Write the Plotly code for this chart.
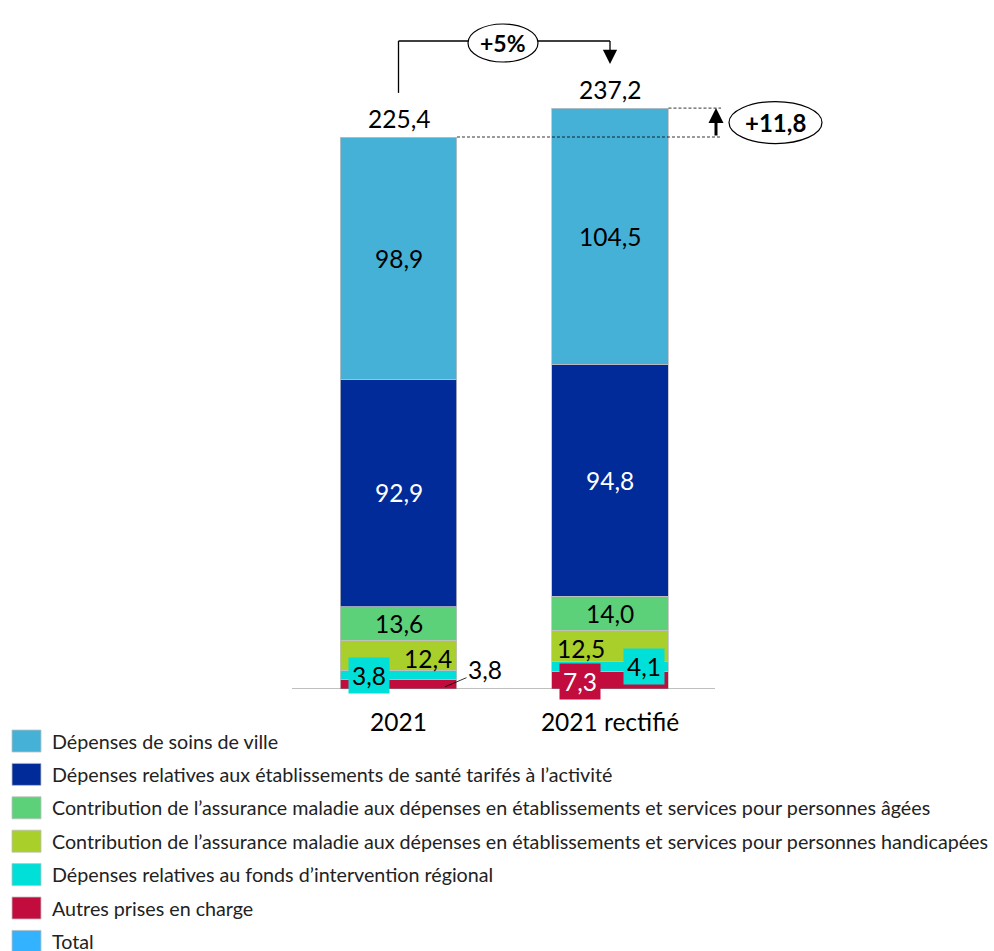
import plotly.graph_objects as go

# Categories and stacked series (Md€)
categories = ["2021", "2021 rectifié"]
series_names = [
    "Autres prises en charge",
    "Dépenses relatives au fonds d’intervention régional",
    "Contribution de l’assurance maladie aux dépenses en établissements et services pour personnes handicapées",
    "Contribution de l’assurance maladie aux dépenses en établissements et services pour personnes âgées",
    "Dépenses relatives aux établissements de santé tarifés à l’activité",
    "Dépenses de soins de ville",
]
autres = [3.8, 7.3]
fir = [3.8, 4.1]
ph = [12.4, 12.5]
pa = [13.6, 14.0]
ets = [92.9, 94.8]
ville = [98.9, 104.5]
totals = [225.4, 237.2]
growth_label = "+5%"
delta_label = "+11,8"

series_values = [autres, fir, ph, pa, ets, ville]
series_colors = ["#C10C3D", "#00E0D8", "#A8CF2A", "#5CD17A", "#002B99", "#45B1D6"]
total_color = "#33B3FF"

FONT = "Lato"
NUM_SIZE = 24.5
W, H = 994, 951
PX_PER_UNIT = 2.449          # vertical scale (px per Md€)
BASE_PX = 689                # pixel row of the zero line
X_PX_PER_CAT = 211.5
X0_PX = 398.5                # pixel column of the first category
BAR_W = 0.553

x_range = [-X0_PX / X_PX_PER_CAT, (W - X0_PX) / X_PX_PER_CAT]
y_range = [0, BASE_PX / PX_PER_UNIT]


def fmt(v):
    return f"{v:.1f}".replace(".", ",")


def py(pixel_row):
    """Data y for a pixel row of the figure."""
    return (BASE_PX - pixel_row) / PX_PER_UNIT


def px(pixel_col):
    """Data x for a pixel column of the figure."""
    return (pixel_col - X0_PX) / X_PX_PER_CAT


fig = go.Figure()
for name, vals, col in zip(series_names, series_values, series_colors):
    fig.add_trace(go.Bar(
        x=categories, y=vals, name=name, width=BAR_W,
        marker=dict(color=col, line=dict(color="#BFBFBF", width=0.8)),
        showlegend=False, hoverinfo="skip",
    ))

annotations = []

# Totals above the stacks
for ci, t in enumerate(totals):
    annotations.append(dict(
        x=ci, y=t, text=fmt(t), showarrow=False, yanchor="middle", yshift=19,
        font=dict(family=FONT, size=NUM_SIZE, color="black"),
    ))

# Segment labels: (series index, category index, x shift, y shift, box color, font color)
label_specs = [
    (5, 0, 0, 0, None, "black"),
    (4, 0, 0, 0, None, "white"),
    (3, 0, 0, 0, None, "black"),
    (2, 0, 29.5, -3, None, "black"),
    (1, 0, -29.5, 0, "#00E0D8", "black"),
    (5, 1, 0, 0, None, "black"),
    (4, 1, 0, 0, None, "white"),
    (3, 1, 0, 0, None, "black"),
    (2, 1, -29.5, -3, None, "black"),
    (1, 1, 33.5, 0, "#00E0D8", "black"),
    (0, 1, -30.5, -1.5, "#C10C3D", "white"),
]
for si, ci, dx, dy, bg, fc in label_specs:
    below = sum(series_values[k][ci] for k in range(si))
    v = series_values[si][ci]
    ann = dict(
        x=ci, y=below + v / 2, text=fmt(v), showarrow=False,
        xshift=dx, yshift=dy, font=dict(family=FONT, size=NUM_SIZE, color=fc),
    )
    if bg:
        ann.update(bgcolor=bg, borderpad=3)
    annotations.append(ann)

# "Autres" label of the first bar, placed outside with a leader line
annotations.append(dict(
    x=px(445), y=autres[0] / 2 - 1.0, text=fmt(autres[0]), showarrow=True,
    arrowhead=0, arrowwidth=0.8, arrowcolor="black", ax=40, ay=-17,
    font=dict(family=FONT, size=NUM_SIZE, color="black"),
))

# Growth bracket between the two totals
top_y = py(41)
x_a, x_b = 0, 1
shapes = [
    dict(type="line", xref="x", yref="y", x0=x_a, x1=x_a, y0=totals[0] + 18.0, y1=top_y,
         line=dict(color="black", width=1.3)),
    dict(type="line", xref="x", yref="y", x0=x_a, x1=x_b, y0=top_y, y1=top_y,
         line=dict(color="black", width=1.3)),
    dict(type="line", xref="x", yref="y", x0=x_b, x1=x_b, y0=top_y, y1=py(56),
         line=dict(color="black", width=1.3)),
]
annotations.append(dict(
    x=x_b, y=py(64), ax=x_b, ay=py(54),
    xref="x", yref="y", axref="x", ayref="y", text="", showarrow=True,
    arrowhead=2, arrowsize=2.2, arrowwidth=1.3, arrowcolor="black",
))
ex = px(503)
shapes.append(dict(
    type="circle", xref="x", yref="y",
    x0=ex - 35 / X_PX_PER_CAT, x1=ex + 35 / X_PX_PER_CAT,
    y0=py(62), y1=py(24),
    fillcolor="white", line=dict(color="black", width=1.2),
))
annotations.append(dict(
    x=ex, y=py(43), text=f"<b>{growth_label}</b>", showarrow=False,
    font=dict(family=FONT, size=23, color="black"),
))

# Difference marker: dashed guides at both totals and an upward arrow
x_guide_end = px(721)
x_arrow = px(716)
dash = dict(color="black", width=0.8, dash="3px,2px")
shapes += [
    dict(type="line", xref="x", yref="y", x0=x_a + BAR_W / 2, x1=x_guide_end,
         y0=totals[0], y1=totals[0], line=dash, layer="above"),
    dict(type="line", xref="x", yref="y", x0=x_b + BAR_W / 2, x1=x_guide_end,
         y0=totals[1], y1=totals[1], line=dash, layer="above"),
]
annotations.append(dict(
    x=x_arrow, y=totals[1], ax=x_arrow, ay=totals[0],
    xref="x", yref="y", axref="x", ayref="y", text="", showarrow=True,
    arrowhead=2, arrowsize=1, arrowwidth=3, arrowcolor="black",
))
dx_c = px(775.5)
dy_c = (totals[0] + totals[1]) / 2
shapes.append(dict(
    type="circle", xref="x", yref="y",
    x0=dx_c - 46.5 / X_PX_PER_CAT, x1=dx_c + 46.5 / X_PX_PER_CAT,
    y0=dy_c - 21 / PX_PER_UNIT, y1=dy_c + 21 / PX_PER_UNIT,
    fillcolor="white", line=dict(color="black", width=1.2),
))
annotations.append(dict(
    x=dx_c, y=dy_c, text=f"<b>{delta_label}</b>", showarrow=False,
    font=dict(family=FONT, size=24, color="black"),
))

# Zero line
shapes.append(dict(
    type="line", xref="x", yref="y", x0=px(292), x1=px(715), y0=0, y1=0,
    line=dict(color="#808080", width=1.2), layer="above",
))

# Legend, drawn as swatches and labels (paper y is relative to the plot area)
PLOT_H = BASE_PX


def paper_y(pixel_row):
    return 1 - pixel_row / PLOT_H


legend_order = [5, 4, 3, 2, 1, 0]
legend_items = [(series_names[i], series_colors[i]) for i in legend_order] + [("Total", total_color)]
for k, (name, col) in enumerate(legend_items):
    cy = 741 + k * 33.4
    shapes.append(dict(
        type="rect", xref="paper", yref="paper",
        x0=12 / W, x1=41 / W, y0=paper_y(cy + 11), y1=paper_y(cy - 11),
        fillcolor=col, line=dict(color="#BFBFBF", width=0.8),
    ))
    annotations.append(dict(
        x=50 / W, y=paper_y(cy), xref="paper", yref="paper", xanchor="left", yanchor="middle",
        text=name, showarrow=False, font=dict(family=FONT, size=19.7, color="#222222"),
    ))

fig.update_layout(
    barmode="stack",
    width=W, height=H,
    margin=dict(l=0, r=0, t=0, b=H - BASE_PX),
    paper_bgcolor="white", plot_bgcolor="white",
    xaxis=dict(type="category", range=x_range, showgrid=False, showline=False, zeroline=False,
               ticks="", ticklabelstandoff=16,
               tickfont=dict(family=FONT, size=24.5, color="black"), fixedrange=True),
    yaxis=dict(range=y_range, visible=False, fixedrange=True),
    shapes=shapes, annotations=annotations,
    font=dict(family=FONT),
    showlegend=False,
)

fig.write_html("out.html")
